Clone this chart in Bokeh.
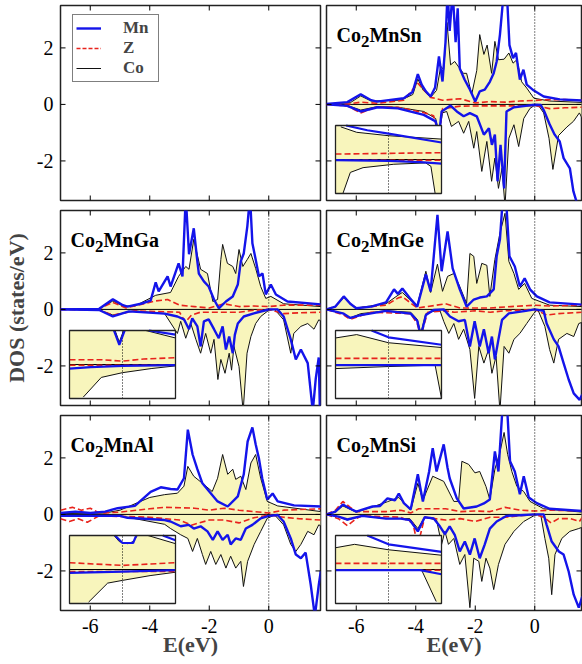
import numpy as np
from bokeh.plotting import figure
from bokeh.models import Range1d, FixedTicker, Legend, LegendItem, Label
from bokeh.layouts import row, column
from bokeh.embed import file_html
from bokeh.resources import INLINE

# ---------------- data: (E [eV], DOS [states/eV]) pairs ----------------
X_TICKS = [-6, -4, -2, 0]
X_TICK_LABELS = ["-6", "-4", "-2", "0"]
Y_TICKS = [-2, 0, 2]
Y_TICK_LABELS = ["-2", "0", "2"]
SERIES = ["Mn", "Z", "Co"]

# Co2MnSn
SN_MN_UP = [(-7,0.02),(-6.3,0.08),(-5.85,0.36),(-5.5,0.15),(-5.3,0.1),(-4.4,0.22),(-4.1,0.45),(-3.93,1.07),(-3.8,0.7),(-3.66,0.46),(-3.5,0.28),(-3.35,0.6),(-3.22,1.7),(-3.1,0.81),(-3.0,2.2),(-2.93,4.0),(-2.86,2.6),(-2.76,4.0),(-2.66,2.2),(-2.59,3.4),(-2.52,1.27),(-2.36,0.88),(-2.2,0.57),(-2.0,0.1),(-1.85,0.46),(-1.68,0.52),(-1.51,0.8),(-1.38,1.1),(-1.28,1.52),(-1.17,2.47),(-1.04,4.0),(-0.94,4.0),(-0.85,2.1),(-0.73,1.64),(-0.63,1.82),(-0.5,0.88),(-0.38,1.23),(-0.27,0.7),(-0.03,0.49),(0.3,0.28),(0.84,0.18),(1.6,0.14)]
SN_CO_UP = [(-7,0.01),(-6.2,0.06),(-5.85,0.3),(-5.5,0.12),(-4.5,0.15),(-4.1,0.35),(-3.93,0.9),(-3.75,0.5),(-3.5,0.25),(-3.3,0.5),(-3.16,1.35),(-3.06,1.23),(-2.95,2.9),(-2.83,1.4),(-2.69,1.52),(-2.52,1.27),(-2.4,1.1),(-2.29,1.1),(-2.12,0.35),(-1.95,1.2),(-1.85,2.47),(-1.71,1.77),(-1.6,2.1),(-1.45,1.1),(-1.34,2.23),(-1.22,1.58),(-1.03,1.6),(-0.87,1.82),(-0.73,1.46),(-0.6,1.58),(-0.44,0.8),(-0.27,0.58),(-0.03,0.22),(0.5,0.12),(1.6,0.07)]
SN_Z_UP = [(-7,0),(-6.2,0.02),(-5.85,0.08),(-5.3,0.04),(-4.4,0.15),(-3.93,0.75),(-3.5,0.25),(-3.1,0.15),(-2.5,0.2),(-2.0,0.05),(-1.5,0.1),(-1.0,0.08),(-0.5,0.12),(0,0.14),(0.5,0.17),(1.0,0.17),(1.6,0.15)]
SN_MN_DN = [(-7,0),(-6.3,-0.05),(-5.85,-0.25),(-5.28,-0.1),(-4.6,-0.14),(-3.73,-0.37),(-3.33,-0.6),(-3.22,-1.13),(-3.13,-0.25),(-2.83,-0.04),(-2.62,-0.25),(-2.39,-0.42),(-2.18,-0.31),(-1.95,-0.42),(-1.71,-1.07),(-1.54,-0.84),(-1.44,-1.43),(-1.34,-1.07),(-1.25,-2.72),(-1.15,-1.43),(-1.03,-2.97),(-0.95,-0.25),(-0.7,-0.1),(-0.3,-0.05),(0,-0.01),(0.2,-0.02),(0.3,-0.2),(0.5,-0.7),(0.67,-1.07),(0.84,-1.31),(0.97,-1.9),(1.18,-2.26),(1.3,-3.08),(1.45,-3.6),(1.6,-3.6)]
SN_CO_DN = [(-7,0),(-6.3,-0.04),(-5.85,-0.2),(-5.3,-0.08),(-4.6,-0.1),(-3.73,-0.25),(-3.33,-0.5),(-3.22,-1.07),(-3.1,-0.3),(-2.96,-0.25),(-2.8,-0.78),(-2.56,-0.6),(-2.39,-1.02),(-2.22,-0.6),(-2.05,-1.55),(-1.95,-0.96),(-1.78,-2.37),(-1.61,-1.31),(-1.45,-2.72),(-1.34,-1.9),(-1.22,-2.97),(-1.1,-2.26),(-1.0,-3.6),(-0.87,-1.2),(-0.7,-0.72),(-0.54,-1.49),(-0.37,-0.5),(-0.16,-0.14),(0,-0.03),(0.1,0),(0.3,-0.3),(0.48,-1.2),(0.61,-2.3),(0.8,-1.1),(1.08,-0.8),(1.3,-0.6),(1.5,-0.3),(1.6,-0.5)]
SN_Z_DN = [(-7,0),(-6.3,-0.05),(-5.85,-0.3),(-5.3,-0.08),(-4.6,-0.1),(-3.7,-0.3),(-3.4,-0.4),(-3.22,-1.1),(-3.1,-0.15),(-2.5,-0.06),(-1.5,-0.05),(-0.5,-0.05),(0,-0.04),(0.5,-0.15),(1.0,-0.12),(1.6,-0.1)]

# Co2MnGa
GA_MN_UP = [(-7,0),(-5.7,0.02),(-5.24,0.36),(-4.9,0.15),(-4.75,0.1),(-4.3,0.2),(-3.97,0.31),(-3.8,0.96),(-3.7,0.64),(-3.4,1.17),(-3.3,0.81),(-3.03,1.63),(-2.9,1.17),(-2.79,4.0),(-2.68,1.95),(-2.52,2.87),(-2.4,1.7),(-2.35,1.27),(-2.18,0.99),(-2.02,0.81),(-1.84,0.35),(-1.68,0.04),(-1.44,0.28),(-1.21,0.46),(-1.04,0.88),(-0.94,1.7),(-0.84,1.98),(-0.72,2.94),(-0.63,4.0),(-0.55,2.34),(-0.44,1.77),(-0.33,1.17),(-0.21,1.27),(-0.1,0.53),(0.07,0.88),(0.24,0.53),(0.63,0.28),(1.75,0.18)]
GA_CO_UP = [(-7,0),(-5.7,0.02),(-5.24,0.3),(-4.9,0.12),(-4.5,0.12),(-3.8,0.5),(-3.3,0.6),(-3.03,1.17),(-2.79,1.52),(-2.68,1.42),(-2.52,2.48),(-2.29,1.42),(-2.06,1.27),(-1.88,0.28),(-1.72,0.35),(-1.61,1.77),(-1.55,2.3),(-1.39,1.63),(-1.21,1.52),(-1.11,1.27),(-1.0,2.12),(-0.87,1.52),(-0.72,1.77),(-0.6,1.98),(-0.44,1.45),(-0.27,0.81),(-0.1,0.39),(0.07,0.46),(0.5,0.2),(1.75,0.1)]
GA_Z_UP = [(-7,0),(-5.7,0.02),(-5.24,0.25),(-4.8,0.05),(-3.8,0.3),(-3.4,0.35),(-3.0,0.15),(-2.5,0.1),(-2.0,0.05),(-1.5,0.2),(-1.0,0.1),(-0.5,0.12),(0,0.1),(0.5,0.15),(1.75,0.15)]
GA_MN_DN = [(-7,0),(-5.7,-0.02),(-5.24,-0.25),(-4.7,-0.07),(-3.5,-0.15),(-3.07,-0.25),(-2.85,-0.35),(-2.68,-0.7),(-2.57,-0.32),(-2.4,-0.6),(-2.29,-1.31),(-2.18,-0.42),(-2.02,-0.35),(-1.84,-0.7),(-1.68,-1.02),(-1.55,-0.6),(-1.44,-1.42),(-1.33,-0.96),(-1.21,-1.55),(-1.14,-0.9),(-1.04,-0.5),(-0.84,-0.25),(-0.5,-0.14),(-0.1,-0.03),(0,0),(0.3,0),(0.5,-0.25),(0.74,-1.06),(0.91,-1.77),(1.08,-1.42),(1.31,-1.9),(1.48,-3.6),(1.58,-2.45),(1.68,-1.7),(1.72,-3.6),(1.75,-3.6)]
GA_CO_DN = [(-7,0),(-5.7,-0.02),(-5.24,-0.2),(-4.5,-0.05),(-3.5,-0.15),(-3.07,-0.85),(-2.96,-0.42),(-2.79,-1.02),(-2.62,-0.5),(-2.45,-1.06),(-2.29,-1.55),(-2.12,-0.85),(-1.95,-1.55),(-1.84,-1.06),(-1.71,-2.48),(-1.61,-1.77),(-1.47,-2.26),(-1.33,-1.55),(-1.25,-2.15),(-1.17,-1.31),(-1.0,-2.02),(-0.86,-3.6),(-0.73,-1.55),(-0.6,-0.96),(-0.44,-0.5),(-0.27,-0.25),(0,-0.03),(0.2,0),(0.5,-0.37),(0.74,-1.55),(0.84,-0.85),(1.08,-0.6),(1.31,-0.5),(1.52,-0.7),(1.68,-0.37),(1.75,-0.4)]
GA_Z_DN = [(-7,0),(-5.7,-0.02),(-5.24,-0.2),(-4.5,-0.05),(-3.0,-0.1),(-2.8,-0.45),(-2.6,-0.2),(-2.3,-0.1),(-1.5,-0.1),(-1.0,-0.1),(-0.5,-0.03),(0,0),(0.5,-0.15),(1.0,-0.12),(1.75,-0.1)]

# Co2MnGe
GE_MN_UP = [(-7,0),(-6.7,0.1),(-6.42,0.46),(-6.2,0.2),(-6.0,0.04),(-5.5,0.1),(-5.0,0.25),(-4.73,0.71),(-4.6,0.55),(-4.45,0.74),(-4.2,0.4),(-3.95,0.1),(-3.66,1.24),(-3.5,0.64),(-3.27,3.35),(-3.13,1.35),(-2.93,2.76),(-2.76,1.45),(-2.52,0.71),(-2.29,0.1),(-2.05,0.35),(-1.85,0.42),(-1.61,0.46),(-1.38,0.71),(-1.28,1.88),(-1.17,2.48),(-1.07,4.0),(-0.97,4.0),(-0.85,1.88),(-0.67,1.52),(-0.5,0.81),(-0.34,1.1),(-0.16,0.71),(0.07,0.46),(0.5,0.25),(1.6,0.17)]
GE_CO_UP = [(-7,0),(-6.7,0.1),(-6.42,0.42),(-6.2,0.2),(-6.0,0.05),(-5.0,0.2),(-4.6,0.5),(-4.45,0.6),(-4.2,0.35),(-3.95,0.15),(-3.66,1.35),(-3.5,0.6),(-3.27,1.6),(-3.1,0.64),(-2.93,1.17),(-2.72,1.27),(-2.52,0.81),(-2.29,0.21),(-2.18,1.98),(-2.05,1.88),(-1.95,0.92),(-1.78,1.63),(-1.61,1.56),(-1.51,0.46),(-1.34,1.77),(-1.17,2.7),(-1.0,3.4),(-0.87,1.7),(-0.7,1.27),(-0.54,0.71),(-0.34,0.92),(-0.1,0.39),(0.5,0.15),(1.6,0.1)]
GE_Z_UP = [(-7,0),(-6.7,0.1),(-6.42,0.45),(-6.2,0.2),(-6.0,0.05),(-5.0,0.15),(-4.6,0.4),(-4.45,0.45),(-4.2,0.25),(-3.95,0.05),(-3.3,0.15),(-3.0,0.2),(-2.5,0.05),(-1.5,0.05),(-0.8,0.1),(0,0.15),(0.5,0.12),(1.6,0.15)]
GE_MN_DN = [(-7,0),(-6.42,-0.15),(-6.2,-0.3),(-5.85,-0.2),(-5.0,-0.05),(-4.17,-0.15),(-3.95,-0.4),(-3.83,-0.95),(-3.66,-0.2),(-3.4,-0.02),(-3.06,0),(-2.85,-0.25),(-2.56,-0.42),(-2.35,-0.37),(-2.18,-1.31),(-2.02,-0.42),(-1.85,-1.31),(-1.71,-0.7),(-1.55,-1.55),(-1.44,-0.96),(-1.34,-1.77),(-1.22,-1.06),(-1.1,-0.37),(-0.87,-0.14),(-0.3,-0.05),(0,0),(0.3,-0.05),(0.4,-0.5),(0.64,-1.06),(0.8,-1.31),(0.97,-1.9),(1.14,-2.48),(1.31,-2.97),(1.51,-3.2),(1.6,-3.0)]
GE_CO_DN = [(-7,0),(-6.42,-0.15),(-6.2,-0.3),(-5.85,-0.15),(-5.0,-0.05),(-4.17,-0.1),(-3.95,-0.35),(-3.83,-0.85),(-3.66,-0.15),(-3.2,0),(-3.06,-0.42),(-2.89,-0.85),(-2.72,-0.5),(-2.56,-1.06),(-2.39,-0.7),(-2.18,-1.42),(-2.02,-3.15),(-1.88,-1.31),(-1.71,-1.9),(-1.55,-1.42),(-1.44,-2.26),(-1.3,-1.66),(-1.17,-3.6),(-1.03,-1.31),(-0.87,-1.55),(-0.7,-1.06),(-0.5,-0.85),(-0.27,-0.5),(-0.03,-0.14),(0.1,0),(0.34,-0.6),(0.5,-1.42),(0.64,-1.9),(0.8,-1.06),(1.08,-0.85),(1.31,-0.96),(1.48,-0.5),(1.6,-0.45)]
GE_Z_DN = [(-7,0),(-6.42,-0.2),(-6.2,-0.35),(-5.5,-0.1),(-4.17,-0.15),(-3.95,-0.5),(-3.83,-0.95),(-3.6,-0.1),(-3.0,-0.05),(-2.7,-0.1),(-2.0,-0.05),(-1.5,-0.1),(-1.0,-0.05),(0,0),(0.4,-0.2),(0.8,-0.15),(1.6,-0.1)]

# Co2MnAl
AL_MN_UP = [(-7,0.05),(-6.5,0.1),(-6.0,0.05),(-5.5,0.1),(-5.08,0.22),(-4.5,0.3),(-3.97,0.8),(-3.63,0.96),(-3.3,0.9),(-3.07,0.88),(-2.85,1.28),(-2.72,3.0),(-2.56,2.12),(-2.4,1.6),(-2.23,1.1),(-2.0,0.81),(-1.72,0.46),(-1.38,0.28),(-1.04,0.64),(-0.84,1.42),(-0.71,2.58),(-0.55,3.08),(-0.44,2.48),(-0.33,1.98),(-0.22,1.28),(-0.05,0.53),(0.13,0.74),(0.3,0.46),(0.85,0.32),(1.75,0.28)]
AL_CO_UP = [(-7,0.03),(-5.5,0.05),(-5.0,0.15),(-4.0,0.6),(-3.5,0.7),(-3.07,0.75),(-2.85,1.0),(-2.72,1.7),(-2.52,1.35),(-2.18,1.06),(-1.9,0.81),(-1.72,1.28),(-1.55,2.12),(-1.38,1.42),(-1.21,1.6),(-1.11,1.24),(-0.94,1.35),(-0.77,0.88),(-0.6,1.82),(-0.44,2.12),(-0.27,1.28),(-0.05,0.46),(0.3,0.3),(1.75,0.1)]
AL_Z_UP = [(-7,0.15),(-6.6,0.25),(-6.3,0.15),(-6.0,0.22),(-5.7,0.05),(-5.0,0.08),(-4.0,0.2),(-3.5,0.25),(-2.5,0.22),(-2.0,0.15),(-1.5,0.22),(-1.0,0.15),(-0.5,0.1),(0,0.05),(0.5,0.15),(1.75,0.2)]
AL_MN_DN = [(-7,-0.05),(-6.0,-0.05),(-5.0,-0.05),(-4.75,-0.12),(-3.5,-0.2),(-3.3,-0.25),(-2.96,-0.42),(-2.69,-0.37),(-2.52,-0.5),(-2.29,-0.42),(-2.06,-0.6),(-1.88,-0.9),(-1.72,-0.6),(-1.55,-0.9),(-1.38,-0.72),(-1.28,-1.06),(-1.11,-0.85),(-0.94,-0.9),(-0.77,-0.5),(-0.55,-0.37),(-0.27,-0.14),(0,-0.05),(0.3,-0.02),(0.5,-0.25),(0.74,-0.85),(0.91,-1.42),(1.08,-1.55),(1.24,-1.35),(1.41,-2.48),(1.55,-3.6),(1.68,-2.5),(1.75,-2.0)]
AL_CO_DN = [(-7,-0.05),(-5.0,-0.05),(-4.5,-0.15),(-3.5,-0.35),(-3.3,-0.5),(-2.96,-0.72),(-2.72,-0.85),(-2.56,-1.31),(-2.4,-0.85),(-2.23,-1.42),(-2.12,-1.77),(-1.95,-1.31),(-1.78,-1.77),(-1.61,-1.42),(-1.44,-1.9),(-1.28,-1.48),(-1.11,-1.9),(-0.94,-1.66),(-0.85,-2.55),(-0.71,-1.66),(-0.49,-1.06),(-0.27,-0.6),(-0.05,-0.14),(0.2,-0.02),(0.5,-0.37),(0.74,-1.06),(0.91,-1.31),(1.08,-1.06),(1.31,-0.6),(1.52,-0.72),(1.68,-0.37),(1.75,-0.4)]
AL_Z_DN = [(-7,-0.15),(-6.7,-0.25),(-6.4,-0.15),(-6.1,-0.28),(-5.7,-0.05),(-4.0,-0.1),(-3.0,-0.2),(-2.6,-0.38),(-2.0,-0.2),(-1.5,-0.2),(-1.0,-0.3),(-0.5,-0.12),(0,-0.02),(0.5,-0.1),(1.0,-0.15),(1.75,-0.2)]

# Co2MnSi
SI_MN_UP = [(-7,0),(-6.7,0.1),(-6.45,0.35),(-6.2,0.2),(-6.0,0.1),(-5.45,0.28),(-5.2,0.3),(-4.95,0.57),(-4.7,0.5),(-4.57,0.74),(-4.4,0.4),(-4.17,0.18),(-3.93,1.42),(-3.76,0.46),(-3.55,1.52),(-3.43,2.34),(-3.3,1.52),(-3.06,2.48),(-2.93,1.64),(-2.86,1.28),(-2.62,0.57),(-2.39,0.21),(-1.95,0.28),(-1.71,0.39),(-1.51,0.53),(-1.34,2.23),(-1.22,1.52),(-1.07,4.0),(-0.94,4.0),(-0.83,1.88),(-0.67,1.52),(-0.5,0.71),(-0.37,1.35),(-0.2,0.6),(0.07,0.4),(0.5,0.2),(1.6,0.12)]
SI_CO_UP = [(-7,0),(-6.7,0.08),(-6.45,0.3),(-6.0,0.08),(-5.5,0.25),(-4.95,0.45),(-4.57,0.6),(-4.17,0.15),(-3.93,1.1),(-3.76,0.5),(-3.43,1.35),(-3.06,1.17),(-2.72,0.46),(-2.56,0.46),(-2.45,1.88),(-2.22,1.77),(-2.01,1.47),(-1.85,1.52),(-1.64,0.99),(-1.51,0.53),(-1.34,1.6),(-1.17,2.2),(-1.03,2.9),(-0.91,2.12),(-0.77,1.52),(-0.6,0.99),(-0.37,0.81),(-0.16,0.46),(0.3,0.2),(1.6,0.08)]
SI_Z_UP = [(-7,0),(-6.7,0.15),(-6.45,0.46),(-6.2,0.25),(-6.0,0.1),(-5.0,0.1),(-4.5,0.15),(-4.17,0.05),(-3.9,0.2),(-3.0,0.2),(-2.5,0.1),(-2.0,0.12),(-1.5,0.1),(-1.0,0.25),(-0.5,0.15),(0,0.12),(0.5,0.15),(1.6,0.12)]
SI_MN_DN = [(-7,0),(-6.6,-0.08),(-6.3,-0.18),(-5.8,-0.05),(-5.0,-0.15),(-4.5,-0.15),(-4.2,-0.2),(-3.93,-0.6),(-3.7,-0.1),(-3.4,-0.14),(-3.19,-0.42),(-3.02,-0.7),(-2.86,-0.42),(-2.69,-0.72),(-2.52,-1.31),(-2.35,-0.96),(-2.18,-1.42),(-2.02,-0.85),(-1.85,-1.55),(-1.68,-1.06),(-1.51,-0.5),(-1.28,-0.25),(-0.94,-0.05),(-0.5,-0.03),(0,0),(0.3,0),(0.4,-0.37),(0.57,-0.96),(0.81,-1.31),(0.97,-1.42),(1.14,-2.02),(1.31,-2.84),(1.48,-3.3),(1.6,-2.9)]
SI_CO_DN = [(-7,0),(-6.6,-0.08),(-6.3,-0.2),(-5.8,-0.05),(-5.0,-0.15),(-4.2,-0.15),(-3.93,-0.5),(-3.7,-0.1),(-3.3,-0.2),(-3.13,-1.06),(-3.02,-0.6),(-2.9,-1.06),(-2.72,-0.85),(-2.52,-1.77),(-2.35,-1.42),(-2.18,-3.3),(-2.05,-1.55),(-1.88,-1.66),(-1.78,-2.37),(-1.64,-1.55),(-1.51,-1.9),(-1.38,-2.66),(-1.22,-1.77),(-1.0,-1.06),(-0.7,-0.6),(-0.37,-0.25),(0,-0.03),(0.2,0),(0.34,-0.85),(0.47,-1.55),(0.57,-2.84),(0.68,-1.42),(0.91,-0.85),(1.18,-0.6),(1.48,-0.5),(1.6,-0.45)]
SI_Z_DN = [(-7,0),(-6.6,-0.15),(-6.3,-0.4),(-6.0,-0.15),(-5.8,-0.05),(-4.5,-0.1),(-4.1,-0.3),(-3.93,-1.1),(-3.7,-0.1),(-3.0,-0.2),(-2.5,-0.15),(-2.0,-0.25),(-1.5,-0.1),(-1.0,-0.1),(0,0),(0.3,-0.1),(0.55,-0.3),(0.8,-0.15),(1.2,-0.15),(1.5,-0.25),(1.6,-0.1)]

# insets (zoom around the Fermi level); values beyond +-0.5 leave the inset box
INSET_E = (-0.5, 0.5)
INSET_D = (-0.5, 0.5)
SN_INS_MN_UP = [(-0.5,0.6),(-0.4,0.5),(-0.2,0.43),(0,0.38),(0.5,0.25)]
SN_INS_CO_UP = [(-0.5,0.55),(-0.45,0.48),(-0.3,0.4),(0,0.35),(0.5,0.3)]
SN_INS_Z_UP = [(-0.5,0.08),(0,0.09),(0.5,0.1)]
SN_INS_MN_DN = [(-0.5,-0.01),(0,-0.02),(0.3,-0.04),(0.5,-0.06)]
SN_INS_CO_DN = [(-0.5,-0.8),(-0.43,-0.5),(-0.36,-0.19),(-0.24,-0.12),(0.05,-0.07),(0.35,-0.05),(0.4,-0.1),(0.44,-0.5),(0.5,-0.8)]
SN_INS_Z_DN = [(-0.5,-0.01),(0.5,-0.01)]

GA_INS_MN_UP = [(-0.5,0.8),(-0.1,0.6),(-0.08,0.5),(-0.03,0.29),(0.02,0.5),(0.05,0.6),(0.22,0.6),(0.25,0.5),(0.5,0.44)]
GA_INS_CO_UP = [(-0.5,0.6),(-0.09,0.6),(-0.07,0.5),(-0.03,0.33),(0.01,0.5),(0.03,0.6),(0.19,0.6),(0.22,0.5),(0.5,0.39)]
GA_INS_Z_UP = [(-0.5,0.07),(-0.2,0.07),(0,0.05),(0.2,0.08),(0.5,0.1)]
GA_INS_MN_DN = [(-0.5,-0.06),(-0.3,-0.04),(0,-0.02),(0.5,-0.01)]
GA_INS_CO_DN = [(-0.5,-0.9),(-0.37,-0.48),(-0.2,-0.19),(0,-0.12),(0.27,-0.06),(0.5,-0.02)]
GA_INS_Z_DN = [(-0.5,-0.01),(0.5,-0.01)]

GE_INS_MN_UP = [(-0.5,0.8),(-0.2,0.6),(-0.16,0.5),(0,0.4),(0.5,0.29)]
GE_INS_CO_UP = [(-0.5,0.39),(-0.3,0.44),(0,0.32),(0.5,0.25)]
GE_INS_Z_UP = [(-0.5,0.09),(0.5,0.09)]
GE_INS_MN_DN = [(-0.5,-0.01),(0.5,-0.01)]
GE_INS_CO_DN = [(-0.5,-0.06),(0,-0.03),(0.44,-0.01),(0.5,-0.5)]
GE_INS_Z_DN = [(-0.5,-0.01),(0.5,-0.01)]

AL_INS_MN_UP = [(-0.5,0.8),(-0.1,0.6),(-0.07,0.5),(0,0.39),(0.1,0.39),(0.13,0.5),(0.16,0.6),(0.35,0.6),(0.38,0.5),(0.5,0.43)]
AL_INS_CO_UP = [(-0.5,0.6),(-0.12,0.6),(-0.08,0.5),(-0.03,0.41),(0.05,0.38),(0.1,0.41),(0.14,0.5),(0.16,0.6),(0.22,0.6),(0.24,0.5),(0.5,0.38)]
AL_INS_Z_UP = [(-0.5,0.1),(0,0.06),(0.5,0.1)]
AL_INS_MN_DN = [(-0.5,-0.05),(0,-0.03),(0.5,-0.01)]
AL_INS_CO_DN = [(-0.5,-0.9),(-0.32,-0.48),(-0.14,-0.2),(0,-0.16),(0.26,-0.09),(0.5,-0.04)]
AL_INS_Z_DN = [(-0.5,-0.03),(0.5,-0.03)]

SI_INS_MN_UP = [(-0.5,0.8),(-0.22,0.6),(-0.2,0.5),(0,0.37),(0.5,0.26)]
SI_INS_CO_UP = [(-0.5,0.32),(-0.32,0.37),(0,0.29),(0.5,0.21)]
SI_INS_Z_UP = [(-0.5,0.09),(0.5,0.09)]
SI_INS_MN_DN = [(-0.5,-0.01),(0.3,-0.01),(0.5,-0.07)]
SI_INS_CO_DN = [(-0.5,-0.01),(0.31,0),(0.45,-0.47),(0.5,-0.6)]
SI_INS_Z_DN = [(-0.5,-0.01),(0.5,-0.01)]

TITLES = {"Sn": ("Co", "2", "MnSn"), "Ga": ("Co", "2", "MnGa"), "Ge": ("Co", "2", "MnGe"),
          "Al": ("Co", "2", "MnAl"), "Si": ("Co", "2", "MnSi")}

# ---------------- styling / layout ----------------
FONT = "Liberation Serif"
BLUE = "#1414ea"
RED = "#e8231c"
BLACK = "#111111"
FILL = "#f8f5bc"
PX_PER_EV = 29.75
Y_RANGE = (-3.4, 3.5)
FRAME_H = 195
FRAME_W = {0: 260, 1: 255}
BORDER_L = {0: 60, 1: 3}
BORDER_R = {0: 3, 1: 1}
BORDER_T = {0: 5, 1: 5, 2: 5}
BORDER_B = {0: 5, 1: 5, 2: 55}
TICK_PX = 5
INS_PX_X = (9, 115)     # inset box, px from frame left
INS_PX_Y = (7, 75)      # inset box, px from frame bottom
TB = {'C': .722, 'o': .5, '2': .5, 'M': .944, 'n': .556, 'S': .556, 'G': .778, 'a': .5,
      'e': .444, 'A': .722, 'l': .278, 'i': .278}


def pairs(pts):
    a = np.array(pts, dtype=float)
    return a[:, 0], a[:, 1]


def style_axis(ax, ticks, labels, show):
    ax.ticker = FixedTicker(ticks=ticks, minor_ticks=[])
    ax.major_label_overrides = {t: l for t, l in zip(ticks, labels)}
    ax.axis_line_color = None
    ax.major_tick_line_color = None
    ax.minor_tick_line_color = None
    ax.major_tick_in = 0
    ax.major_tick_out = 0
    ax.major_label_text_font = FONT
    ax.major_label_text_font_size = "20px"
    ax.major_label_text_color = "black"
    ax.visible = show


def make_fig(col, rw):
    w = BORDER_L[col] + FRAME_W[col] + BORDER_R[col]
    h = BORDER_T[rw] + FRAME_H + BORDER_B[rw]
    x1 = -7 + FRAME_W[col] / PX_PER_EV
    p = figure(width=w, height=h, x_range=Range1d(-7, x1), y_range=Range1d(*Y_RANGE),
               output_backend="svg", toolbar_location=None,
               min_border_left=BORDER_L[col], min_border_right=BORDER_R[col],
               min_border_top=BORDER_T[rw], min_border_bottom=BORDER_B[rw])
    p.grid.visible = False
    p.outline_line_color = "#222222"
    p.outline_line_width = 1.5
    p.background_fill_color = "white"
    p.border_fill_color = "white"
    xa, ya = p.xaxis[0], p.yaxis[0]
    style_axis(xa, X_TICKS, X_TICK_LABELS, rw == 2)
    style_axis(ya, Y_TICKS, Y_TICK_LABELS, col == 0)
    if rw == 2:
        xa.major_label_standoff = 8
        xa.axis_label = "E(eV)"
        xa.axis_label_text_font = FONT
        xa.axis_label_text_font_style = "bold"
        xa.axis_label_text_font_size = "22px"
        xa.axis_label_standoff = -4
    if col == 0:
        ya.major_label_standoff = 7
    if col == 0 and rw == 1:
        ya.axis_label = "DOS (states/eV)"
        ya.axis_label_text_font = FONT
        ya.axis_label_text_font_style = "bold"
        ya.axis_label_text_font_size = "22px"
        ya.axis_label_standoff = 5
    return p


def add_ticks(p):
    x0, x1 = p.x_range.start, p.x_range.end
    y0, y1 = p.y_range.start, p.y_range.end
    dx = TICK_PX / PX_PER_EV
    dy = TICK_PX * (y1 - y0) / FRAME_H
    xt = np.array(X_TICKS, dtype=float)
    yt = np.array(Y_TICKS, dtype=float)
    kw = dict(line_color="black", line_width=1)
    p.segment(x0=xt, y0=np.full_like(xt, y0), x1=xt, y1=np.full_like(xt, y0 + dy), **kw)
    p.segment(x0=xt, y0=np.full_like(xt, y1), x1=xt, y1=np.full_like(xt, y1 - dy), **kw)
    p.segment(x0=np.full_like(yt, x0), y0=yt, x1=np.full_like(yt, x0 + dx), y1=yt, **kw)
    p.segment(x0=np.full_like(yt, x1), y0=yt, x1=np.full_like(yt, x1 - dx), y1=yt, **kw)


def add_title(p, parts):
    main, sub, rest = parts
    size, sub_size = 20, 17
    x0 = p.x_range.start
    y1 = p.y_range.end
    w_main = sum(TB.get(c, .6) for c in main) * size
    w_sub = sum(TB.get(c, .6) for c in sub) * sub_size
    common = dict(x=x0, y=y1, text_font=FONT, text_font_style="bold", text_color="black",
                  text_baseline="alphabetic", text_align="left")
    p.add_layout(Label(text=main, x_offset=10, y_offset=-29, text_font_size=f"{size}px", **common))
    p.add_layout(Label(text=sub, x_offset=10 + w_main, y_offset=-36, text_font_size=f"{sub_size}px", **common))
    p.add_layout(Label(text=rest, x_offset=10 + w_main + w_sub, y_offset=-29, text_font_size=f"{size}px", **common))


def draw_main(p, d):
    x0, x1 = p.x_range.start, p.x_range.end
    y0, y1 = p.y_range.start, p.y_range.end
    for key in ("co_up", "co_dn"):
        x, y = pairs(d[key])
        p.varea(x=x, y1=np.zeros_like(y), y2=y, fill_color=FILL)
    p.line([x0, x1], [0, 0], line_color="black", line_width=1)
    for key in ("co_up", "co_dn"):
        x, y = pairs(d[key])
        p.line(x, y, line_color=BLACK, line_width=1)
    for key in ("z_up", "z_dn"):
        x, y = pairs(d[key])
        p.line(x, y, line_color=RED, line_width=1.6, line_dash="6 3")
    for key in ("mn_up", "mn_dn"):
        x, y = pairs(d[key])
        p.line(x, y, line_color=BLUE, line_width=2.4)
    p.line([0, 0], [y0, y1], line_color="black", line_width=1, line_dash="1 2")


def draw_inset(p, d, col):
    e0, e1 = INSET_E
    d0, d1 = INSET_D
    sx = (e1 - e0) / (INS_PX_X[1] - INS_PX_X[0])
    xs = e0 - INS_PX_X[0] * sx
    sy = (d1 - d0) / (INS_PX_Y[1] - INS_PX_Y[0])
    ys = d0 - INS_PX_Y[0] * sy
    p.extra_x_ranges = {"ins": Range1d(xs, xs + FRAME_W[col] * sx)}
    p.extra_y_ranges = {"ins": Range1d(ys, ys + FRAME_H * sy)}
    kw = dict(x_range_name="ins", y_range_name="ins")
    p.quad(left=e0, right=e1, bottom=d0, top=d1, fill_color="white", line_color=None, **kw)

    def clipped(key):
        x, y = pairs(d[key])
        return x, np.clip(y, d0, d1)

    def masked(key):
        x, y = pairs(d[key])
        return x, np.where((y > d1 + 1e-9) | (y < d0 - 1e-9), np.nan, y)

    for key in ("ins_co_up", "ins_co_dn"):
        x, y = clipped(key)
        p.varea(x=x, y1=np.zeros_like(y), y2=y, fill_color=FILL, **kw)
    p.line([e0, e1], [0, 0], line_color="black", line_width=1, **kw)
    p.line([0, 0], [d0, d1], line_color="black", line_width=1, line_dash="1 2", **kw)
    for key in ("ins_co_up", "ins_co_dn"):
        x, y = masked(key)
        p.line(x, y, line_color=BLACK, line_width=1, **kw)
    for key in ("ins_z_up", "ins_z_dn"):
        x, y = masked(key)
        p.line(x, y, line_color=RED, line_width=1.6, line_dash="6 3", **kw)
    for key in ("ins_mn_up", "ins_mn_dn"):
        x, y = masked(key)
        p.line(x, y, line_color=BLUE, line_width=2.2, **kw)
    p.quad(left=e0, right=e1, bottom=d0, top=d1, fill_color=None, line_color="#222222",
           line_width=1.3, **kw)


def panel_data(prefix):
    g = globals()
    keys = ["mn_up", "mn_dn", "z_up", "z_dn", "co_up", "co_dn"]
    d = {k: g[f"{prefix}_{k.upper()}"] for k in keys}
    d.update({f"ins_{k}": g[f"{prefix}_INS_{k.upper()}"] for k in keys})
    return d


LAYOUT = [[None, "Sn"], ["Ga", "Ge"], ["Al", "Si"]]
rows = []
for r, names in enumerate(LAYOUT):
    figs = []
    for c, name in enumerate(names):
        p = make_fig(c, r)
        if name is None:
            nan = [np.nan]
            rs = [p.line(nan, nan, line_color=BLUE, line_width=2.4),
                  p.line(nan, nan, line_color=RED, line_width=1.6, line_dash="4 2"),
                  p.line(nan, nan, line_color=BLACK, line_width=1)]
            leg = Legend(items=[LegendItem(label=s, renderers=[rr]) for s, rr in zip(SERIES, rs)],
                         location=(12, 118), padding=3, spacing=0, margin=0,
                         label_text_font=FONT, label_text_font_style="bold",
                         label_text_font_size="17px", label_text_line_height=1.0,
                         label_height=16, label_width=32, glyph_height=16, glyph_width=25,
                         label_standoff=22, border_line_color="black", border_line_width=1.5,
                         background_fill_alpha=1)
            p.add_layout(leg)
        else:
            d = panel_data(name.upper())
            draw_main(p, d)
            draw_inset(p, d, c)
            add_title(p, TITLES[name])
        add_ticks(p)
        figs.append(p)
    rows.append(row(*figs))

layout = column(*rows)
open("out.html", "w").write(file_html(layout, INLINE))
